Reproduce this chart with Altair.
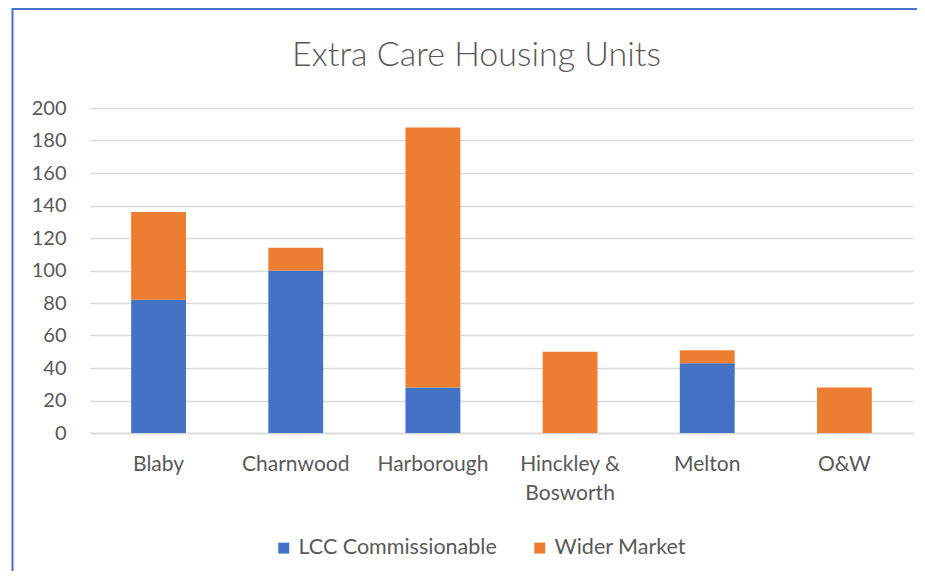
import altair as alt
import pandas as pd

districts = ["Blaby", "Charnwood", "Harborough", "Hinckley & Bosworth", "Melton", "O&W"]
lcc_commissionable = [82, 100, 28, 0, 43, 0]
wider_market = [54, 14, 160, 50, 8, 28]
series_names = ["LCC Commissionable", "Wider Market"]
series_colors = ["#4472C4", "#ED7D31"]
y_ticks = [0, 20, 40, 60, 80, 100, 120, 140, 160, 180, 200]

rows = []
for d, a, b in zip(districts, lcc_commissionable, wider_market):
    rows.append({"district": d, "series": series_names[0], "units": a, "ord": 0})
    rows.append({"district": d, "series": series_names[1], "units": b, "ord": 1})
df = pd.DataFrame(rows)

FONT = "Lato"
TXT = "#595959"
GRID = "#D9D9D9"

bars = alt.Chart(df).mark_bar().encode(
    x=alt.X("district:N", sort=districts, title=None,
            scale=alt.Scale(paddingInner=0.6, paddingOuter=0.3),
            axis=alt.Axis(labelAngle=0, ticks=False, domain=True, domainColor=GRID,
                          domainWidth=1.5, labelPadding=20, labelFontSize=21,
                          labelColor=TXT, labelFont=FONT, labelLineHeight=29,
                          labelBaseline="top", labelLimit=0,
                          labelExpr="datum.label == 'Hinckley & Bosworth' ? ['Hinckley &', 'Bosworth'] : datum.label")),
    y=alt.Y("units:Q", title=None, stack="zero",
            scale=alt.Scale(domain=[0, 200], nice=False),
            axis=alt.Axis(values=y_ticks, ticks=False, domain=False, grid=True,
                          gridColor=GRID, gridWidth=1.5, labelPadding=24,
                          labelFontSize=20, labelColor=TXT, labelFont=FONT)),
    color=alt.Color("series:N", scale=alt.Scale(domain=series_names, range=series_colors),
                    legend=alt.Legend(title=None, orient="none", direction="horizontal",
                                      legendX=183, legendY=429, symbolType="square",
                                      symbolSize=120, symbolStrokeWidth=0,
                                      labelFontSize=21.5, labelColor=TXT, labelFont=FONT,
                                      labelLimit=0, columnPadding=32, labelOffset=4,
                                      padding=0)),
    order=alt.Order("ord:Q"),
)

border_top = alt.Chart(alt.Data(values=[{}])).mark_rule(color="#4472C4", strokeWidth=2).encode(
    x=alt.value(-78), x2=alt.value(840), y=alt.value(-99))
border_left = alt.Chart(alt.Data(values=[{}])).mark_rule(color="#4472C4", strokeWidth=2).encode(
    x=alt.value(-77.5), y=alt.value(-100), y2=alt.value(480))

chart = alt.layer(bars, border_top, border_left).properties(
    width=823, height=325,
    padding={"left": 82, "top": 100, "right": 4, "bottom": 138},
    autosize=alt.AutoSizeParams(type="none"),
    title=alt.TitleParams("Extra Care Housing Units", fontSize=34, font=FONT,
                          fontWeight=300, color=TXT, anchor="middle", frame="group",
                          dx=-25, offset=-66),
).configure_view(stroke=None)

chart.save("out.html", embed_options={"renderer": "svg", "actions": False})
